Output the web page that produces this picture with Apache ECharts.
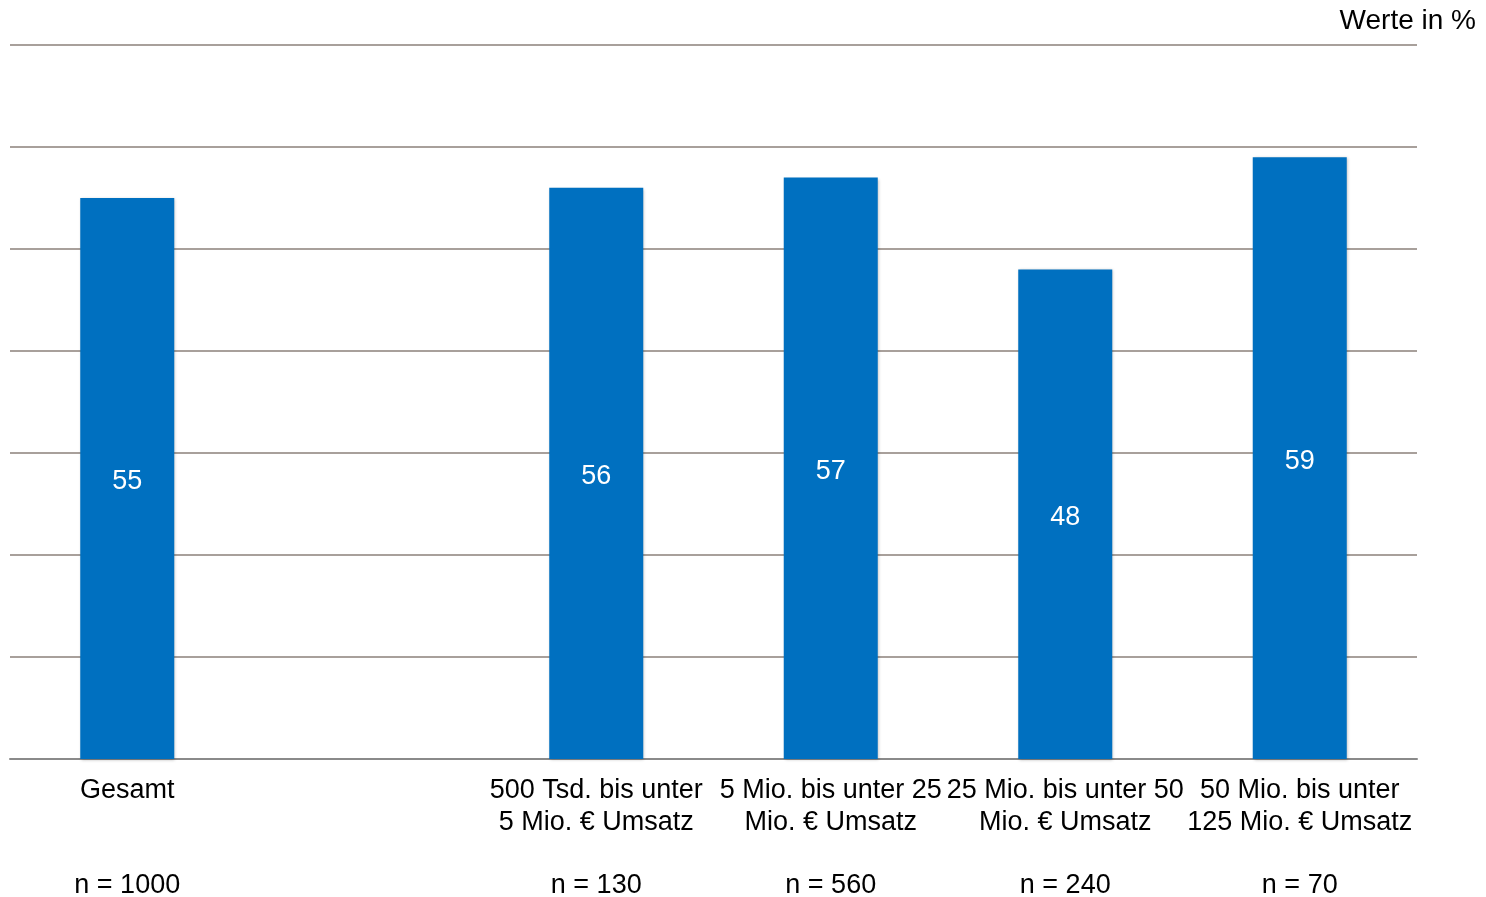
<!DOCTYPE html>
<html>
<head>
<meta charset="utf-8">
<script src="https://cdn.jsdelivr.net/npm/echarts@6/dist/echarts.min.js"></script>
<style>
html,body{margin:0;padding:0;background:#fff;}
#chart{width:1486px;height:897px;}
</style>
</head>
<body>
<div id="chart"></div>
<script>
const categories = ['Gesamt', '', '500 Tsd. bis unter\n5 Mio. € Umsatz', '5 Mio. bis unter 25\nMio. € Umsatz', '25 Mio. bis unter 50\nMio. € Umsatz', '50 Mio. bis unter\n125 Mio. € Umsatz'];
const values = [55, null, 56, 57, 48, 59];
const nLabels = ['n = 1000', '', 'n = 130', 'n = 560', 'n = 240', 'n = 70'];
const unitLabel = 'Werte in %';

const FONT = '"Liberation Sans", Arial, sans-serif';
const chart = echarts.init(document.getElementById('chart'), null, {renderer: 'canvas'});
chart.setOption({
  animation: false,
  backgroundColor: '#ffffff',
  title: {
    text: unitLabel,
    right: 10,
    top: 7,
    padding: 0,
    textStyle: {fontFamily: FONT, fontSize: 28, fontWeight: 'normal', color: '#000'}
  },
  grid: {left: 10, right: 69, top: 45, bottom: 138, containLabel: false, outerBoundsMode: 'none'},
  xAxis: {
    type: 'category',
    data: categories,
    axisTick: {show: false},
    axisLine: {show: true, lineStyle: {color: '#8a8a8a', width: 2}},
    axisLabel: {
      interval: 0,
      margin: 16,
      fontFamily: FONT,
      fontSize: 27,
      lineHeight: 31.5,
      color: '#000',
      formatter: function (value, idx) {
        if (!value && !nLabels[idx]) return '';
        const lines = value.split('\n');
        while (lines.length < 2) lines.push('');
        return lines.join('\n') + '\n\n' + nLabels[idx];
      }
    }
  },
  yAxis: {
    type: 'value',
    min: 0,
    max: 70,
    interval: 10,
    axisLabel: {show: false},
    axisLine: {show: false},
    axisTick: {show: false},
    splitLine: {show: true, lineStyle: {color: '#a8a09b', width: 2}}
  },
  series: [{
    type: 'bar',
    data: values,
    barWidth: 94,
    itemStyle: {
      color: '#0070C0',
      shadowColor: 'rgba(0,0,0,0.25)',
      shadowBlur: 3,
      shadowOffsetX: 1,
      shadowOffsetY: 1
    },
    label: {
      show: true,
      position: 'inside',
      offset: [0, 3],
      color: '#fff',
      fontFamily: FONT,
      fontSize: 27
    }
  }]
});
</script>
</body>
</html>
